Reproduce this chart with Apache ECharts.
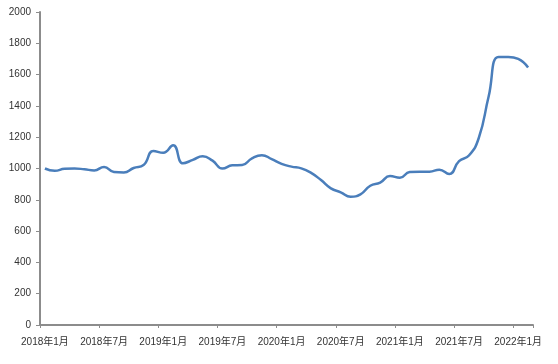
<!DOCTYPE html>
<html>
<head>
<meta charset="utf-8">
<script src="https://cdn.jsdelivr.net/npm/echarts@6/dist/echarts.min.js"></script>
<style>html,body{margin:0;padding:0;background:#fff;}#c{width:558px;height:364px;}</style>
</head>
<body>
<div id="c"></div>
<script>
var categories = [
  '2018年1月','2018年2月','2018年3月','2018年4月','2018年5月','2018年6月',
  '2018年7月','2018年8月','2018年9月','2018年10月','2018年11月','2018年12月',
  '2019年1月','2019年2月','2019年3月','2019年4月','2019年5月','2019年6月',
  '2019年7月','2019年8月','2019年9月','2019年10月','2019年11月','2019年12月',
  '2020年1月','2020年2月','2020年3月','2020年4月','2020年5月','2020年6月',
  '2020年7月','2020年8月','2020年9月','2020年10月','2020年11月','2020年12月',
  '2021年1月','2021年2月','2021年3月','2021年4月','2021年5月','2021年6月',
  '2021年7月','2021年8月','2021年9月','2021年10月','2021年11月','2021年12月',
  '2022年1月','2022年2月'
];
var values = [
  1000, 985, 998, 1000, 995, 988, 1010, 978, 975, 1003, 1022, 1112,
  1100, 1148, 1033, 1055, 1078, 1050, 1000, 1020, 1022, 1065, 1085, 1060,
  1030, 1012, 1001, 972, 926, 873, 848, 820, 835, 890, 910, 952,
  941, 978, 980, 980, 992, 965, 1047, 1083, 1195, 1460, 1712, 1712,
  1700, 1645
];
var yTicks = {min: 0, max: 2000, step: 200};

var chart = echarts.init(document.getElementById('c'), null, {renderer: 'canvas'});
var labelFont = {fontSize: 10, color: '#333', fontFamily: 'Arial, "Noto Sans CJK SC", sans-serif'};
chart.setOption({
  animation: false,
  backgroundColor: '#fff',
  grid: {left: 40, right: 25, top: 12, bottom: 39, containLabel: false},
  xAxis: {
    type: 'category',
    data: categories,
    boundaryGap: true,
    axisLine: {lineStyle: {color: '#8c8c8c', width: 2}},
    axisTick: {show: true, interval: 5, length: 3, lineStyle: {color: '#8c8c8c', width: 1}},
    axisLabel: Object.assign({interval: 5, margin: 12}, labelFont),
    splitLine: {show: false}
  },
  yAxis: {
    type: 'value',
    min: yTicks.min, max: yTicks.max, interval: yTicks.step,
    axisLine: {show: true, lineStyle: {color: '#8c8c8c', width: 2}},
    axisTick: {show: true, length: 4, lineStyle: {color: '#8c8c8c', width: 1}},
    axisLabel: Object.assign({margin: 9, formatter: function (v) { return String(v); }}, labelFont),
    splitLine: {show: false}
  },
  series: [{
    type: 'line',
    data: values,
    smooth: 0.5,
    symbol: 'none',
    lineStyle: {color: '#4a7ebb', width: 2.5}
  }]
});
</script>
</body>
</html>
